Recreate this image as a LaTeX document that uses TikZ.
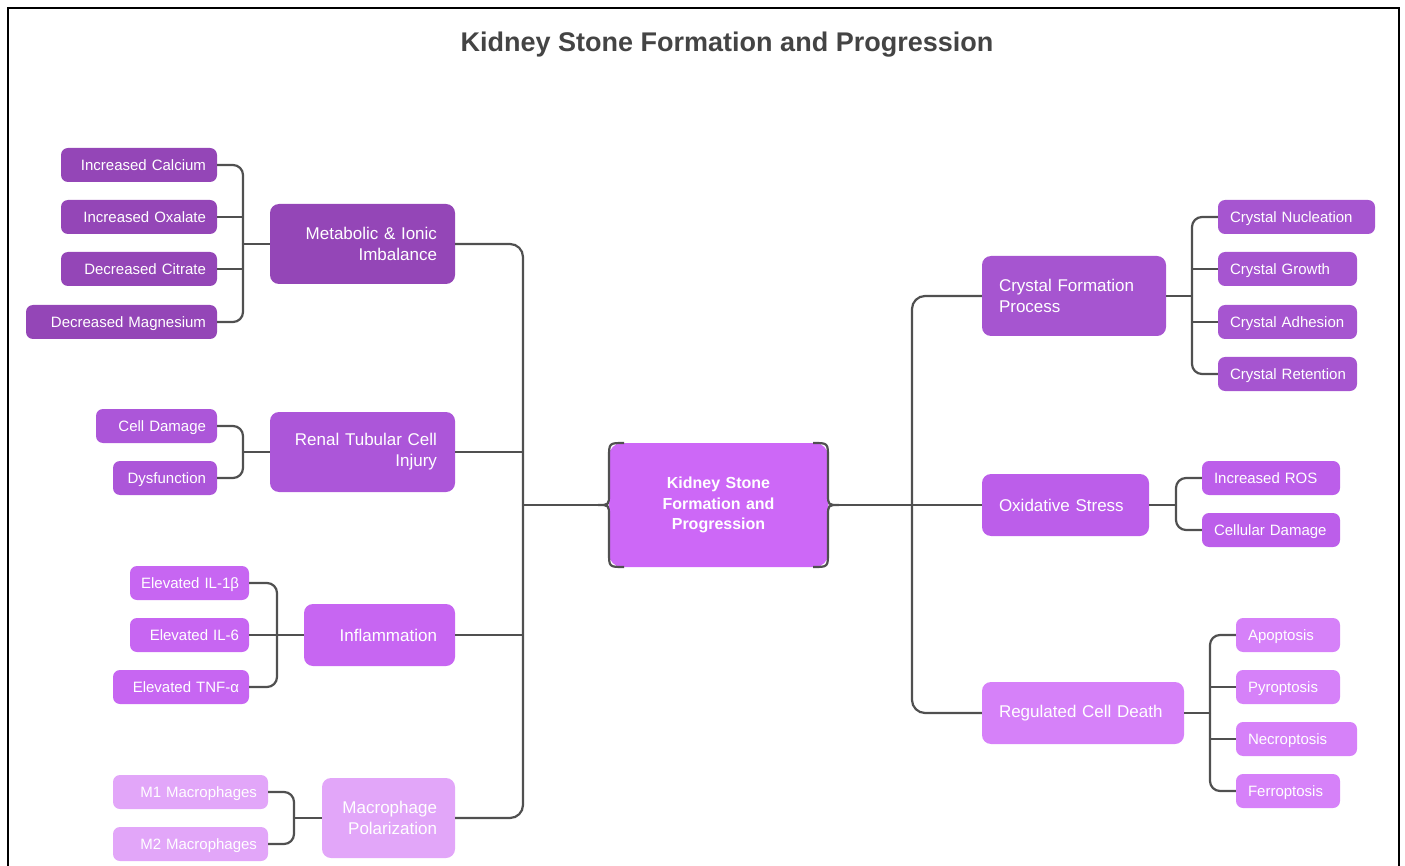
\documentclass[tikz,border=0pt]{standalone}
\usepackage{fontspec}
\setmainfont{Liberation Sans}
\definecolor{cmet}{HTML}{9446B7}
\definecolor{cren}{HTML}{AC56D9}
\definecolor{cinf}{HTML}{C766F2}
\definecolor{cmac}{HTML}{E2A6F9}
\definecolor{ccen}{HTML}{CD68F7}
\definecolor{ccry}{HTML}{A655D0}
\definecolor{coxi}{HTML}{BC5EEA}
\definecolor{creg}{HTML}{D681F9}
\definecolor{linec}{HTML}{505050}
\definecolor{titlec}{HTML}{444444}
\newcommand\mybox[9]{%
  \pgfmathsetmacro\bw{#4-#2}\pgfmathsetmacro\bh{#5-#3}\pgfmathsetmacro\tw{#4-#2-2*#8}%
  \node[#6, minimum width=\bw pt, minimum height=\bh pt, text width=\tw pt, inner xsep=#8pt, align=#7] (#1) at ({(#2+#4)/2},{(#3+#5)/2}) {#9};}
\begin{document}
\begin{tikzpicture}[x=1pt,y=-1pt,
  conn/.style={draw=linec, line width=2.2pt, rounded corners=10pt},
  trunk/.style={draw=linec, line width=2.2pt, rounded corners=13pt},
  bracestyle/.style={draw=linec, line width=2.2pt},
  leaf/.style={rounded corners=7pt, inner ysep=0pt, text=white, text height=10.5pt, text depth=0pt, font=\fontsize{15}{18}\selectfont},
  par/.style={rounded corners=9pt, inner ysep=0pt, text=white, font=\fontsize{17}{21}\selectfont}]
\useasboundingbox (0,0) rectangle (1405,866);
\draw[line width=2pt, black] (8,870) -- (8,8) -- (1399,8) -- (1399,870);
\node[font=\bfseries\fontsize{27}{32}\selectfont, text=titlec] (title) at (727,45) {Kidney Stone Formation and Progression};

% left groups
\mybox{ica}{61}{148}{217}{182}{leaf,fill=cmet}{right}{11}{\mbox{Increased Calcium}}
\mybox{iox}{61}{200}{217}{234}{leaf,fill=cmet}{right}{11}{\mbox{Increased Oxalate}}
\mybox{dci}{61}{252}{217}{286}{leaf,fill=cmet}{right}{11}{\mbox{Decreased Citrate}}
\mybox{dma}{26}{305}{217}{339}{leaf,fill=cmet}{right}{11}{\mbox{Decreased Magnesium}}
\mybox{met}{270}{204}{455}{284}{par,fill=cmet}{right}{18}{Metabolic \& Ionic\\Imbalance}

\mybox{cda}{96}{409}{217}{443}{leaf,fill=cren}{right}{11}{\mbox{Cell Damage}}
\mybox{dys}{113}{461}{217}{495}{leaf,fill=cren}{right}{11}{\mbox{Dysfunction}}
\mybox{ren}{270}{412}{455}{492}{par,fill=cren}{right}{18}{Renal Tubular Cell\\Injury}

\mybox{ilb}{130}{566}{249}{600}{leaf,fill=cinf}{right}{10}{\mbox{Elevated IL-1β}}
\mybox{ils}{130}{618}{249}{652}{leaf,fill=cinf}{right}{10}{\mbox{Elevated IL-6}}
\mybox{tnf}{113}{670}{249}{704}{leaf,fill=cinf}{right}{10}{\mbox{Elevated TNF-α}}
\mybox{inf}{304}{604}{455}{666}{par,fill=cinf}{right}{18}{Inflammation}

\mybox{mone}{113}{775}{268}{809}{leaf,fill=cmac}{right}{11}{\mbox{M1 Macrophages}}
\mybox{mtwo}{113}{827}{268}{861}{leaf,fill=cmac}{right}{11}{\mbox{M2 Macrophages}}
\mybox{mac}{322}{778}{455}{858}{par,fill=cmac}{right}{18}{Macrophage\\Polarization}

% center
\node[fill=ccen, rounded corners=13pt, minimum width=219pt, minimum height=124pt, text width=200pt, align=center, inner sep=0pt, text=white, font=\bfseries\fontsize{16}{20.5}\selectfont] (ks) at (718.5,505) {Kidney Stone\\Formation and\\Progression};

% right groups
\mybox{cfp}{982}{256}{1166}{336}{par,fill=ccry}{left}{17}{Crystal Formation\\Process}
\mybox{cnu}{1218}{200}{1375}{234}{leaf,fill=ccry}{left}{12}{\mbox{Crystal Nucleation}}
\mybox{cgr}{1218}{252}{1357}{286}{leaf,fill=ccry}{left}{12}{\mbox{Crystal Growth}}
\mybox{cad}{1218}{305}{1357}{339}{leaf,fill=ccry}{left}{12}{\mbox{Crystal Adhesion}}
\mybox{cre}{1218}{357}{1357}{391}{leaf,fill=ccry}{left}{12}{\mbox{Crystal Retention}}

\mybox{oxs}{982}{474}{1149}{536}{par,fill=coxi}{left}{17}{Oxidative Stress}
\mybox{ros}{1202}{461}{1340}{495}{leaf,fill=coxi}{left}{12}{\mbox{Increased ROS}}
\mybox{cld}{1202}{513}{1340}{547}{leaf,fill=coxi}{left}{12}{\mbox{Cellular Damage}}

\mybox{rcd}{982}{682}{1184}{744}{par,fill=creg}{left}{17}{Regulated Cell Death}
\mybox{apo}{1236}{618}{1340}{652}{leaf,fill=creg}{left}{12}{\mbox{Apoptosis}}
\mybox{pyr}{1236}{670}{1340}{704}{leaf,fill=creg}{left}{12}{\mbox{Pyroptosis}}
\mybox{nec}{1236}{722}{1357}{756}{leaf,fill=creg}{left}{12}{\mbox{Necroptosis}}
\mybox{fer}{1236}{774}{1340}{808}{leaf,fill=creg}{left}{12}{\mbox{Ferroptosis}}

% bus coordinates
\coordinate (bmet) at (243,244);
\coordinate (bren) at (243,452);
\coordinate (binf) at (277,635);
\coordinate (bmac) at (294,818);
\coordinate (lt) at (523,505);
\coordinate (ksl) at (598,505);
\coordinate (ksr) at (839,505);
\coordinate (rt) at (912,505);
\coordinate (bcry) at (1192,296);
\coordinate (boxi) at (1176,505);
\coordinate (breg) at (1210,713);

% left connectors
\draw[conn] (ica.east) -| (bmet);
\draw[conn] (dma.east) -| (bmet);
\draw[conn] (iox.east) -- (iox.east -| bmet);
\draw[conn] (dci.east) -- (dci.east -| bmet);
\draw[conn] (bmet) -- (met.west);

\draw[conn] (cda.east) -| (bren);
\draw[conn] (dys.east) -| (bren);
\draw[conn] (bren) -- (ren.west);

\draw[conn] (ilb.east) -| (binf);
\draw[conn] (tnf.east) -| (binf);
\draw[conn] (ils.east) -- (inf.west);

\draw[conn] (mone.east) -| (bmac);
\draw[conn] (mtwo.east) -| (bmac);
\draw[conn] (bmac) -- (mac.west);

\draw[trunk] (met.east) -| (lt);
\draw[trunk] (mac.east) -| (lt);
\draw[trunk] (ren.east) -- (ren.east -| lt);
\draw[trunk] (inf.east) -- (inf.east -| lt);
\draw[trunk] (lt) -- (ksl);

% braces of the center node
\draw[bracestyle] (624,443) .. controls (609,443) .. (609,458) -- (609,494) .. controls (609,505) .. (ksl) .. controls (609,505) .. (609,516) -- (609,552) .. controls (609,567) .. (624,567);
\draw[bracestyle] (813,443) .. controls (828,443) .. (828,458) -- (828,494) .. controls (828,505) .. (ksr) .. controls (828,505) .. (828,516) -- (828,552) .. controls (828,567) .. (813,567);

% right connectors
\draw[trunk] (cfp.west) -| (rt);
\draw[trunk] (rcd.west) -| (rt);
\draw[trunk] (ksr) -- (oxs.west);

\draw[conn] (cfp.east) -- (bcry);
\draw[conn] (cnu.west) -| (bcry);
\draw[conn] (cre.west) -| (bcry);
\draw[conn] (cgr.west) -- (cgr.west -| bcry);
\draw[conn] (cad.west) -- (cad.west -| bcry);

\draw[conn] (oxs.east) -- (boxi);
\draw[conn] (ros.west) -| (boxi);
\draw[conn] (cld.west) -| (boxi);

\draw[conn] (rcd.east) -- (breg);
\draw[conn] (apo.west) -| (breg);
\draw[conn] (fer.west) -| (breg);
\draw[conn] (pyr.west) -- (pyr.west -| breg);
\draw[conn] (nec.west) -- (nec.west -| breg);
\end{tikzpicture}
\end{document}
